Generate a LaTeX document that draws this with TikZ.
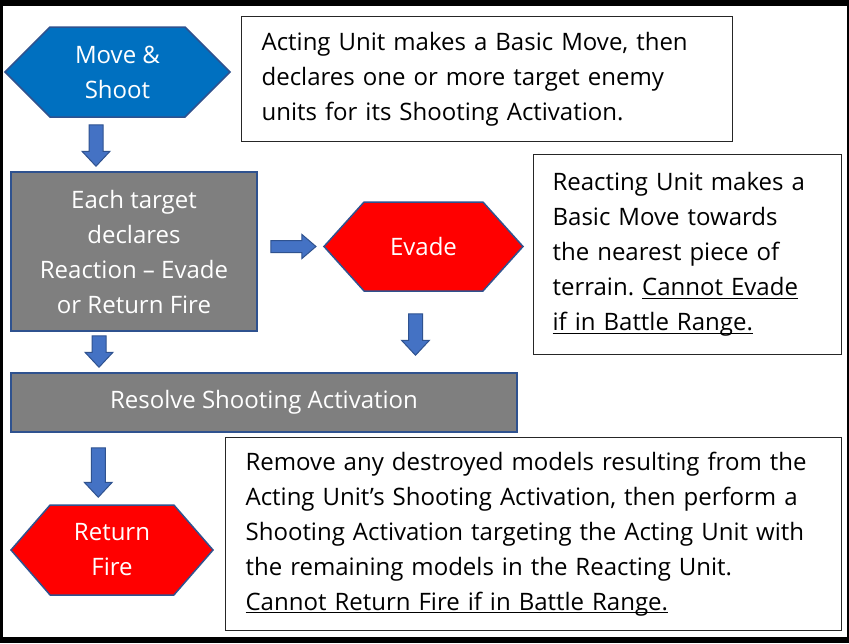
\documentclass[tikz,border=0pt]{standalone}
\usepackage{fontspec}
\setmainfont{Open Sans}
\frenchspacing
\usetikzlibrary{calc,shapes.symbols}
\definecolor{hexblue}{HTML}{0070C0}
\definecolor{edgeblue}{HTML}{2F528F}
\definecolor{arrblue}{HTML}{4472C4}
\definecolor{boxgrey}{HTML}{7F7F7F}
\newcommand{\ulbar}[1]{\leavevmode\setbox0=\hbox{#1}\rlap{\rule[-3pt]{\wd0}{1.3pt}}\box0}
\newcommand{\downblock}[2]{\draw[blockarr] ($(#1)+(-7,0)$) -- ($(#1)+(7,0)$) -- ($(#2)+(7,-15)$) -- ($(#2)+(14,-15)$) -- (#2) -- ($(#2)+(-14,-15)$) -- ($(#2)+(-7,-15)$) -- cycle;}
\newcommand{\rightblock}[2]{\draw[blockarr] ($(#1)+(0,-6)$) -- ($(#2)+(-14,-6)$) -- ($(#2)+(-14,-12)$) -- (#2) -- ($(#2)+(-14,12)$) -- ($(#2)+(-14,6)$) -- ($(#1)+(0,6)$) -- cycle;}
\tikzset{x=1pt, y=-1pt,
  txt/.style={font=\fontsize{24}{35}\selectfont},
  hexnode/.style={txt, shape=signal, signal to=east and west, draw=edgeblue, line width=1.5pt, text=white, align=center, inner sep=0pt},
  greybox/.style={txt, draw=edgeblue, fill=boxgrey, line width=1.5pt, text=white, align=center, inner sep=0pt},
  infobox/.style={txt, draw=black!85, line width=1.2pt, align=left, inner xsep=20pt, inner ysep=0pt, anchor=north west},
  blockarr/.style={draw=edgeblue, fill=arrblue, line width=1pt}}
\begin{document}
\begin{tikzpicture}
\useasboundingbox (0,0) rectangle (849,643);
\fill[black] (0,0) rectangle (849,643);
\fill[white] (2.5,6) rectangle (847,637);

\node[hexnode, fill=hexblue, minimum width=225pt, minimum height=90pt, signal pointer angle=90] (move) at (117.5,72) {Move \&\\Shoot};
\node[infobox, text width=451pt, minimum height=125pt] (act) at (241,16) {Acting Unit makes a Basic Move, then\\declares one or more target enemy\\units for its Shooting Activation.};
\node[greybox, minimum width=246pt, minimum height=159pt] (each) at (134,251.5) {Each target\\declares\\Reaction – Evade\\or Return Fire};
\node[hexnode, fill=red, minimum width=199pt, minimum height=89pt, signal pointer angle=96] (evade) at (423.5,246.5) {Evade};
\node[infobox, text width=270pt, minimum height=200pt, inner xsep=19pt] (react) at (533,154) {Reacting Unit makes a\\Basic Move towards\\the nearest piece of\\terrain. \ulbar{Cannot Evade}\\\ulbar{if in Battle Range.}};
\node[greybox, minimum width=506pt, minimum height=59pt] (resolve) at (264,402.5) {Resolve Shooting Activation};
\node[hexnode, fill=red, minimum width=202pt, minimum height=90pt, signal pointer angle=98] (ret) at (112,550) {Return\\Fire};
\node[infobox, text width=576pt, minimum height=193pt] (remove) at (225,437) {Remove any destroyed models resulting from the\\Acting Unit’s Shooting Activation, then perform a\\Shooting Activation targeting the Acting Unit with\\the remaining models in the Reacting Unit.\\\ulbar{Cannot Return Fire if in Battle Range.}};

\coordinate (m1) at ($(move.south)+(-21.5,7)$);
\coordinate (m2) at ($(m1 |- each.north)+(0,-5)$);
\coordinate (e1) at ($(each.south)+(-35,4)$);
\coordinate (e2) at ($(e1 |- resolve.north)+(0,-5)$);
\coordinate (v1) at ($(evade.south)+(-8,22)$);
\coordinate (v2) at ($(v1 |- resolve.north)+(0,-17)$);
\coordinate (r1) at ($(resolve.south west)+(88,15)$);
\coordinate (r2) at ($(r1 |- ret.north)+(0,-7)$);
\coordinate (h1) at ($(evade.west)+(-52,0)$);
\coordinate (h2) at ($(evade.west)+(-7,0)$);
\downblock{m1}{m2}
\downblock{e1}{e2}
\downblock{v1}{v2}
\downblock{r1}{r2}
\rightblock{h1}{h2}
\end{tikzpicture}
\end{document}
